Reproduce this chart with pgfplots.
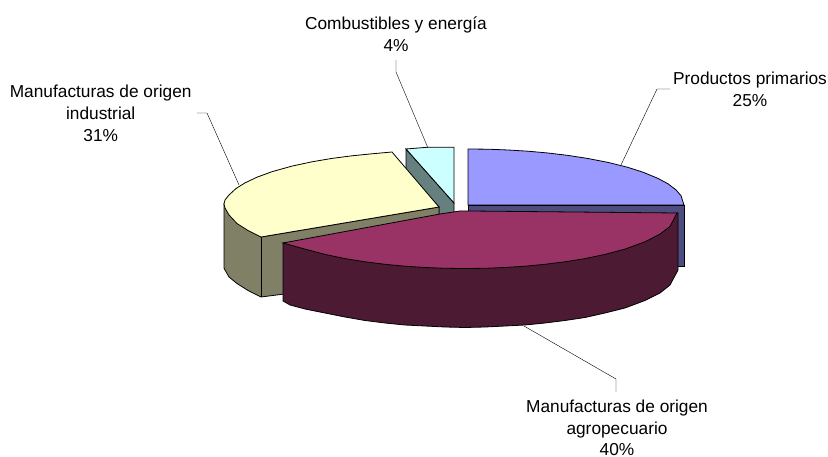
\documentclass[border=0pt]{standalone}
\usepackage{fontspec}
\setmainfont{Liberation Sans}
\usepackage{pgfplots}
\pgfplotsset{compat=1.18}
\definecolor{cBlue}{HTML}{9999FF}
\definecolor{cBlueS}{HTML}{4D4D80}
\definecolor{cMar}{HTML}{993366}
\definecolor{cMarS}{HTML}{4D1A33}
\definecolor{cYel}{HTML}{FFFFCC}
\definecolor{cYelS}{HTML}{808066}
\definecolor{cCya}{HTML}{CCFFFF}
\definecolor{cCyaS}{HTML}{668080}
\begin{document}
\begin{tikzpicture}[x=1pt,y=1pt]
\useasboundingbox (0,0) rectangle (828,457);
\begin{axis}[
  at={(0,0)},anchor=south west,
  scale only axis,width=828pt,height=457pt,
  xmin=0,xmax=828,ymin=0,ymax=457,y dir=reverse,
  hide axis,clip=false,
]
% Combustibles y energia
\addplot[fill=cCyaS,draw=black,line width=0.8pt] coordinates {(406,149)(454,203)(454,215)(439,215)(439,207)(406,172)} --cycle;
\addplot[fill=cCya,draw=black,line width=0.8pt] coordinates {(406,149)(427,147.3)(454,147.3)(454,203)} --cycle;
% Productos primarios
\addplot[fill=cBlueS,draw=black,line width=0.8pt] coordinates {(468,205)(684,205)(684,266)(660,266)(660,216)(468,216)} --cycle;
\addplot[fill=cBlue,draw=black,line width=0.8pt] coordinates {(468,149)(488,149.2)(508,150)(528,151.2)(548,153)(568,155.4)(588,158.5)(608,162.4)(628,167.4)(643,172.2)(658,178.4)(668,183.8)(676,189.9)(681,195.7)(684,205)(468,205)} --cycle;
% Manufacturas de origen industrial
\addplot[fill=cYelS,draw=black,line width=0.8pt] coordinates {(224,204)(224,268)(225,270)(229,277)(237,283.5)(248,290.5)(261,297)(300,292)(300,245)(439,216)(439,207)(261,237)} --cycle;
\addplot[draw=black,line width=0.8pt] coordinates {(261,237)(261,297)};
\addplot[fill=cYel,draw=black,line width=0.8pt] coordinates {(392,152)(372,153.8)(352,155.8)(332,158.4)(312,161.8)(292,166.1)(272,171.7)(257,177.2)(245,182.9)(236,188.5)(229,195)(225,200)(224,204)(225,208)(229,215)(237,223.5)(248,230.5)(261,237)(439,207)} --cycle;
% Manufacturas de origen agropecuario
\addplot[fill=cMarS,draw=black,line width=0.8pt] coordinates {(283,243)(283,301)(290,305)(305,309)(325,313)(345,317)(365,320.5)(385,323)(405,325)(425,326)(445,327)(465,327.5)(485,327)(505,326)(525,325)(545,323)(565,320.5)(585,317.5)(605,313)(625,308)(645,300.5)(660,293)(670,285)(677,272)(678,270)(678,213)} --cycle;
\addplot[fill=cMar,draw=black,line width=0.8pt] coordinates {(283,243)(440,214)(450,212.5)(460,211)(470,211)(677,213)(670,226.4)(660,234.1)(645,241.8)(625,249.1)(605,254.4)(585,258.6)(565,261.8)(545,264.3)(525,266.2)(505,267.5)(485,268.3)(465,268.5)(445,268.3)(425,267.5)(405,266.2)(385,264.3)(365,261.8)(345,258.6)(325,254.4)(305,249.1)} --cycle;
% leaders
\addplot[draw=black,line width=0.4pt] coordinates {(396,60)(396,72)(428,148)};
\addplot[draw=black,line width=0.4pt] coordinates {(197,113)(207,113)(239,185)};
\addplot[draw=black,line width=0.4pt] coordinates {(670,89)(657,89)(621,165)};
\addplot[draw=black,line width=0.4pt] coordinates {(616,392)(616,379)(524,326)};
% labels
\begin{scope}[every node/.style={align=center,font=\fontsize{17.3}{21.7}\selectfont,text=black,inner sep=0pt}]
\node at (axis cs:396,34) {Combustibles y energía\\4\%};
\node at (axis cs:100.7,113.5) {Manufacturas de origen\\industrial\\31\%};
\node at (axis cs:750,89) {Productos primarios\\25\%};
\node at (axis cs:617,428) {Manufacturas de origen\\agropecuario\\40\%};
\end{scope}
\end{axis}
\end{tikzpicture}
\end{document}
